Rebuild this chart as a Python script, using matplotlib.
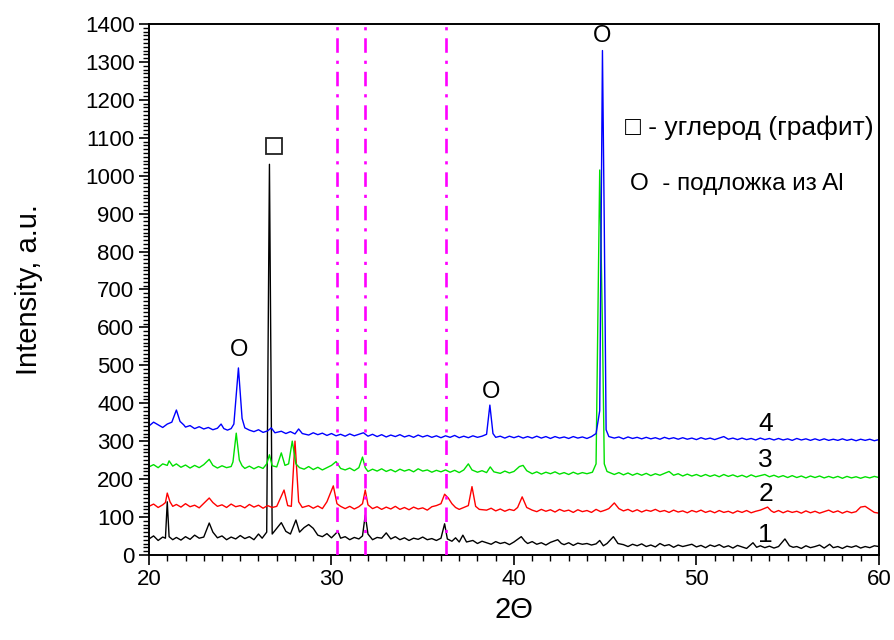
import matplotlib
matplotlib.use("Agg")
import matplotlib.pyplot as plt
from matplotlib.ticker import MultipleLocator

plt.rcParams['font.family'] = ['Liberation Sans', 'DejaVu Sans']

# XRD patterns: (2theta, intensity)
curve1 = [(20.0,42),(20.25,50),(20.5,38),(20.75,47),(20.9,44),(21.0,140),(21.1,48),(21.3,40),(21.5,46),(21.75,39),
          (22.0,48),(22.25,41),(22.5,52),(22.75,44),(23.0,47),(23.3,84),(23.5,60),(23.75,45),(24.0,50),(24.25,40),
          (24.5,47),(24.75,42),(25.0,51),(25.25,43),(25.5,48),(25.75,40),(26.0,55),(26.2,44),(26.45,60),(26.6,1030),
          (26.75,55),(27.0,70),(27.25,85),(27.5,62),(27.75,55),(28.05,92),(28.25,60),(28.5,72),(28.75,80),(29.0,70),
          (29.25,52),(29.5,48),(29.75,56),(30.0,45),(30.35,62),(30.5,44),(30.75,48),(31.0,40),(31.25,46),(31.5,42),
          (31.7,50),(31.85,105),(32.0,55),(32.25,40),(32.5,46),(32.75,44),(33.0,58),(33.25,42),(33.5,48),(33.75,40),
          (34.0,45),(34.25,38),(34.5,44),(34.75,41),(35.0,47),(35.25,40),(35.5,43),(35.75,38),(36.0,44),(36.2,82),
          (36.35,42),(36.6,36),(36.8,45),(37.0,34),(37.2,52),(37.4,34),(37.75,38),(38.0,30),(38.25,36),(38.5,32),
          (38.75,28),(39.0,35),(39.25,30),(39.5,33),(39.75,27),(40.0,34),(40.4,48),(40.6,36),(40.75,30),(41.0,35),
          (41.25,28),(41.5,32),(41.75,26),(42.0,33),(42.4,40),(42.6,30),(42.75,27),(43.0,32),(43.25,25),(43.5,31),
          (43.75,28),(44.0,30),(44.25,26),(44.5,29),(44.7,38),(44.9,24),(45.1,30),(45.45,48),(45.7,30),(46.0,27),
          (46.25,22),(46.5,28),(46.75,24),(47.0,29),(47.25,22),(47.5,26),(47.75,21),(48.0,30),(48.25,24),(48.5,27),
          (48.75,20),(49.0,26),(49.25,22),(49.5,25),(49.75,28),(50.0,21),(50.25,25),(50.5,19),(50.75,26),(51.0,22),
          (51.25,27),(51.5,20),(51.75,24),(52.0,18),(52.25,25),(52.5,21),(52.75,17),(53.1,32),(53.3,20),(53.5,24),
          (53.75,19),(54.0,23),(54.25,18),(54.5,22),(54.85,42),(55.1,24),(55.3,20),(55.5,22),(55.75,17),(56.0,24),
          (56.25,19),(56.5,22),(56.75,26),(57.0,18),(57.3,28),(57.5,19),(57.75,22),(58.0,17),(58.25,23),(58.5,20),
          (58.75,24),(59.0,18),(59.25,22),(59.5,19),(59.75,24),(60.0,22)]

curve2 = [(20.0,128),(20.25,134),(20.5,125),(20.75,132),(20.9,138),(21.0,163),(21.15,140),(21.3,128),(21.5,133),
          (21.75,126),(22.0,135),(22.25,127),(22.5,131),(22.75,124),(23.0,136),(23.3,150),(23.5,138),(23.75,128),
          (24.0,132),(24.25,125),(24.5,134),(24.75,127),(25.0,130),(25.25,124),(25.5,133),(25.75,126),(26.0,131),
          (26.25,123),(26.5,130),(26.75,125),(27.0,128),(27.4,171),(27.6,130),(27.8,128),(28.0,300),(28.2,140),
          (28.4,125),(28.75,130),(29.0,123),(29.25,129),(29.5,122),(29.75,140),(30.1,182),(30.3,135),(30.5,128),
          (30.75,122),(31.0,128),(31.25,121),(31.5,127),(31.7,135),(31.85,171),(32.0,132),(32.25,122),(32.5,127),
          (32.75,120),(33.0,126),(33.25,121),(33.5,128),(33.75,120),(34.0,125),(34.25,119),(34.5,126),(34.75,121),
          (35.0,124),(35.25,118),(35.5,127),(35.75,130),(36.0,135),(36.2,160),(36.4,150),(36.6,135),(36.8,125),
          (37.0,120),(37.25,125),(37.5,130),(37.7,180),(37.9,128),(38.1,120),(38.5,118),(38.75,123),(39.0,116),
          (39.25,121),(39.5,115),(39.75,120),(40.0,117),(40.2,125),(40.45,153),(40.7,125),(41.0,118),(41.25,114),
          (41.5,120),(41.75,115),(42.0,119),(42.25,113),(42.5,120),(42.75,115),(43.0,118),(43.25,112),(43.5,119),
          (43.75,114),(44.0,117),(44.25,112),(44.5,120),(44.75,114),(45.0,118),(45.2,122),(45.5,137),(45.75,122),
          (46.0,116),(46.25,120),(46.5,114),(46.75,119),(47.0,113),(47.25,118),(47.5,115),(47.75,120),(48.0,114),
          (48.25,117),(48.5,112),(48.75,118),(49.0,113),(49.25,116),(49.5,111),(49.75,117),(50.0,113),(50.25,118),
          (50.5,112),(50.75,116),(51.0,111),(51.25,117),(51.5,112),(51.75,115),(52.0,110),(52.25,116),(52.5,112),
          (52.75,117),(53.0,111),(53.25,115),(53.5,118),(53.9,126),(54.1,116),(54.25,112),(54.5,117),(54.75,111),
          (55.0,116),(55.25,112),(55.5,115),(55.75,110),(56.0,116),(56.25,111),(56.5,115),(56.75,110),(57.0,114),
          (57.25,118),(57.5,112),(57.75,116),(58.0,110),(58.25,115),(58.5,111),(58.75,114),(59.0,126),(59.25,128),
          (59.5,120),(59.75,112),(60.0,110)]

curve3 = [(20.0,232),(20.25,238),(20.5,230),(20.75,240),(21.0,236),(21.1,248),(21.3,234),(21.5,240),(21.75,231),
          (22.0,237),(22.25,229),(22.5,236),(22.75,230),(23.0,238),(23.3,252),(23.5,236),(23.75,229),(24.0,235),
          (24.25,230),(24.5,233),(24.6,245),(24.78,321),(24.95,250),(25.1,235),(25.25,228),(25.5,234),(25.75,227),
          (26.0,233),(26.25,228),(26.45,240),(26.6,264),(26.75,235),(27.0,232),(27.25,269),(27.45,236),(27.65,240),
          (27.85,300),(28.05,240),(28.25,230),(28.5,226),(28.75,233),(29.0,225),(29.25,231),(29.5,224),(29.75,230),
          (30.0,236),(30.25,246),(30.5,228),(30.75,224),(31.0,229),(31.25,222),(31.5,230),(31.7,258),(31.85,230),
          (32.0,220),(32.25,226),(32.5,221),(32.75,227),(33.0,220),(33.25,225),(33.5,219),(33.75,226),(34.0,221),
          (34.25,225),(34.5,219),(34.75,227),(35.0,221),(35.25,224),(35.5,218),(35.75,223),(36.0,219),(36.25,224),
          (36.5,218),(36.75,223),(37.0,217),(37.25,224),(37.5,240),(37.7,224),(38.0,218),(38.25,222),(38.5,217),
          (38.7,232),(38.9,219),(39.25,215),(39.5,221),(39.75,216),(40.0,220),(40.3,233),(40.5,236),(40.7,222),
          (41.0,214),(41.25,219),(41.5,213),(41.75,218),(42.0,214),(42.25,219),(42.5,213),(42.75,217),(43.0,212),
          (43.25,218),(43.5,213),(43.75,217),(44.0,214),(44.3,218),(44.5,240),(44.7,1015),(44.85,600),(44.95,240),
          (45.1,220),(45.3,216),(45.5,212),(45.75,217),(46.0,211),(46.25,216),(46.5,210),(46.75,215),(47.0,210),
          (47.25,215),(47.5,209),(47.75,214),(48.0,210),(48.25,215),(48.5,220),(48.75,210),(49.0,214),(49.25,208),
          (49.5,213),(49.75,208),(50.0,212),(50.25,207),(50.5,212),(50.75,207),(51.0,211),(51.25,206),(51.5,212),
          (51.75,207),(52.0,211),(52.25,206),(52.5,210),(52.75,205),(53.0,211),(53.25,206),(53.5,209),(53.75,212),
          (54.0,206),(54.25,210),(54.5,205),(54.75,209),(55.0,204),(55.25,209),(55.5,204),(55.75,208),(56.0,203),
          (56.25,208),(56.5,204),(56.75,208),(57.0,203),(57.25,207),(57.5,203),(57.75,207),(58.0,202),(58.25,207),
          (58.5,203),(58.75,206),(59.0,202),(59.25,206),(59.5,203),(59.75,207),(60.0,204)]

curve4 = [(20.0,340),(20.25,350),(20.5,343),(20.75,336),(21.0,345),(21.25,350),(21.5,382),(21.7,352),(21.9,343),
          (22.0,337),(22.25,341),(22.5,333),(22.75,338),(23.0,332),(23.25,336),(23.5,330),(23.75,334),(23.95,345),
          (24.1,333),(24.3,329),(24.5,333),(24.65,345),(24.9,493),(25.1,360),(25.25,335),(25.5,329),(25.75,325),
          (26.0,330),(26.25,323),(26.5,327),(26.7,335),(26.9,322),(27.25,326),(27.5,320),(27.75,325),(28.0,319),
          (28.2,332),(28.4,320),(28.75,316),(29.0,322),(29.25,317),(29.5,321),(29.75,315),(30.0,320),(30.25,314),
          (30.5,318),(30.75,313),(31.0,319),(31.25,314),(31.5,318),(31.75,322),(32.0,313),(32.25,318),(32.5,312),
          (32.75,317),(33.0,311),(33.25,316),(33.5,312),(33.75,317),(34.0,311),(34.25,315),(34.5,310),(34.75,316),
          (35.0,311),(35.25,315),(35.5,310),(35.75,314),(36.0,309),(36.25,314),(36.5,310),(36.75,315),(37.0,309),
          (37.25,313),(37.5,309),(37.75,314),(38.0,310),(38.25,313),(38.5,318),(38.68,395),(38.85,320),(39.0,310),
          (39.25,313),(39.5,308),(39.75,313),(40.0,309),(40.25,313),(40.5,308),(40.75,312),(41.0,308),(41.25,313),
          (41.5,308),(41.75,312),(42.0,307),(42.25,312),(42.5,308),(42.75,311),(43.0,307),(43.25,312),(43.5,308),
          (43.75,311),(44.0,307),(44.25,312),(44.5,320),(44.7,380),(44.85,1330),(44.95,870),(45.05,330),(45.2,312),
          (45.5,308),(45.75,311),(46.0,306),(46.25,311),(46.5,307),(46.75,310),(47.0,306),(47.25,310),(47.5,306),
          (47.75,309),(48.0,305),(48.25,310),(48.5,306),(48.75,309),(49.0,305),(49.25,309),(49.5,305),(49.75,308),
          (50.0,304),(50.25,309),(50.5,305),(50.75,308),(51.0,304),(51.25,308),(51.5,312),(51.75,305),(52.0,308),
          (52.25,304),(52.5,308),(52.75,304),(53.0,307),(53.25,303),(53.5,308),(53.75,304),(54.0,307),(54.25,303),
          (54.5,307),(54.75,303),(55.0,306),(55.25,302),(55.5,307),(55.75,303),(56.0,306),(56.25,302),(56.5,306),
          (56.75,302),(57.0,306),(57.25,302),(57.5,305),(57.75,302),(58.0,306),(58.25,302),(58.5,305),(58.75,301),
          (59.0,305),(59.25,302),(59.5,305),(59.75,301),(60.0,304)]

curves = [curve1, curve2, curve3, curve4]
curve_colors = ['black', '#ff0000', '#00e000', '#0000ff']
curve_labels = ['1', '2', '3', '4']
label_pos = [(53.8, 53), (53.8, 160), (53.8, 250), (53.8, 345)]

vlines = [30.32, 31.85, 36.25]

# peak markers: (2theta, intensity) of the symbol
graphite_marks = [(26.85, 1078)]
al_marks = [(24.95, 540), (38.75, 430), (44.85, 1368)]

fig = plt.figure(figsize=(8.95, 6.4), dpi=100)
ax = fig.add_axes([0.1665, 0.133, 0.8155, 0.8295])

for c, col in zip(curves, curve_colors):
    xs = [p[0] for p in c]
    ys = [p[1] for p in c]
    ax.plot(xs, ys, color=col, lw=1.0)

for v in vlines:
    ax.axvline(v, color='#ff00ff', lw=1.9, linestyle=(0, (5.5, 3, 1.2, 3)), zorder=5)

for lab, (x, y) in zip(curve_labels, label_pos):
    ax.text(x, y, lab, fontsize=19, ha='center', va='center')

for x, y in graphite_marks:
    ax.plot([x], [y], marker='s', ms=12, mfc='white', mec='#222222', mew=1.3, ls='none')
for x, y in al_marks:
    ax.text(x, y, 'O', fontsize=17, ha='center', va='center')

ax.text(46.1, 1126, '□ - углерод (графит)', fontsize=19, ha='left', va='center')
ax.text(46.35, 978, 'O  - подложка из Al', fontsize=17.5, ha='left', va='center')

ax.set_xlim(20, 60)
ax.set_ylim(0, 1400)
ax.xaxis.set_major_locator(MultipleLocator(10))
ax.xaxis.set_minor_locator(MultipleLocator(1))
ax.yaxis.set_major_locator(MultipleLocator(100))
ax.yaxis.set_minor_locator(MultipleLocator(10))
ax.tick_params(which='both', direction='out', top=False, right=False, labelsize=16, width=1.2)
ax.tick_params(which='major', length=7)
ax.tick_params(which='minor', length=4, width=1)
for s in ax.spines.values():
    s.set_linewidth(1.4)

ax.set_xlabel('2Θ', fontsize=21, labelpad=4)
ax.set_ylabel('Intensity, a.u.', fontsize=21, labelpad=30)

fig.savefig('out.png', dpi=100)
